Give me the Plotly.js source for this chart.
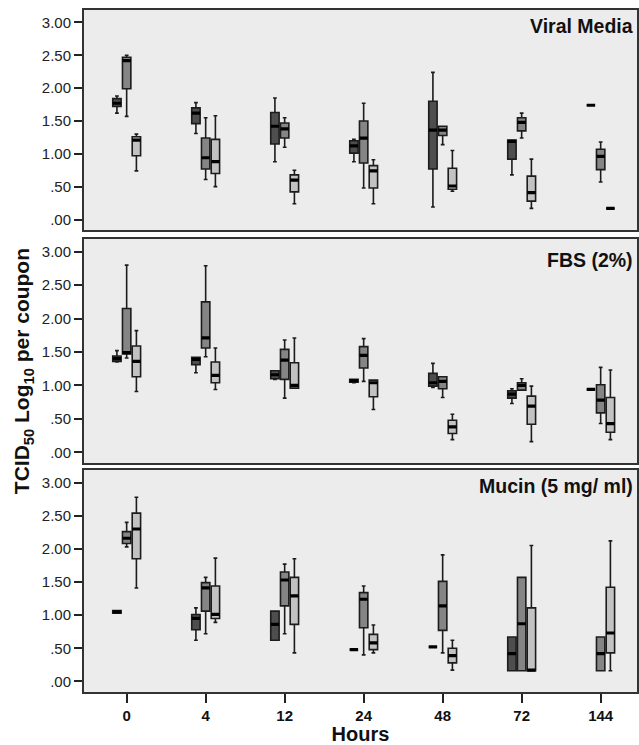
<!DOCTYPE html>
<html>
<head>
<meta charset="utf-8">
<script src="https://cdn.plot.ly/plotly-3.0.1.min.js"></script>
<style>html,body{margin:0;padding:0;background:#fff;}#chart{width:639px;height:745px;}</style>
</head>
<body>
<div id="chart"></div>
<script>
// Hours (categories)
const hours = ['0', '4', '12', '24', '48', '72', '144'];
const panelNames = ['Viral Media', 'FBS (2%)', 'Mucin (5 mg/ ml)'];
const tickVals = [0, 0.5, 1, 1.5, 2, 2.5, 3];
const tickText = ['.00', '.50', '1.00', '1.50', '2.00', '2.50', '3.00'];

// Each entry: [lower whisker, Q1, median, Q3, upper whisker] per hour (null = no data)
const viralDark  = [[1.62,1.72,1.77,1.84,1.88],[1.31,1.46,1.62,1.70,1.78],[0.88,1.15,1.42,1.63,1.85],[0.88,1.01,1.12,1.20,1.22],[0.19,0.77,1.36,1.80,2.24],[0.68,0.92,1.19,1.21,1.21],[1.74,1.74,1.74,1.74,1.74]];
const viralMid   = [[1.57,1.99,2.42,2.47,2.50],[0.61,0.77,0.94,1.24,1.55],[1.10,1.24,1.38,1.47,1.55],[0.48,0.86,1.24,1.50,1.77],[1.14,1.28,1.36,1.42,1.42],[1.24,1.35,1.48,1.55,1.62],[0.57,0.76,0.96,1.07,1.18]];
const viralLight = [[0.74,0.97,1.21,1.26,1.30],[0.50,0.70,0.88,1.22,1.58],[0.24,0.42,0.60,0.68,0.75],[0.24,0.48,0.74,0.82,0.91],[0.43,0.46,0.51,0.78,1.05],[0.17,0.28,0.41,0.66,0.92],[0.17,0.17,0.17,0.17,0.17]];

const fbsDark  = [[1.35,1.36,1.40,1.44,1.52],[1.19,1.31,1.39,1.42,1.42],[1.09,1.10,1.16,1.22,1.22],[1.04,1.05,1.07,1.09,1.09],[0.97,0.99,1.04,1.18,1.33],[0.73,0.81,0.87,0.92,0.95],[0.94,0.94,0.94,0.94,0.94]];
const fbsMid   = [[1.41,1.47,1.49,2.15,2.80],[1.43,1.56,1.71,2.25,2.79],[0.81,1.09,1.38,1.54,1.68],[1.06,1.26,1.45,1.58,1.70],[0.82,0.95,1.06,1.13,1.13],[0.93,0.93,1.00,1.04,1.10],[0.43,0.59,0.78,1.01,1.27]];
const fbsLight = [[0.91,1.13,1.36,1.59,1.82],[0.94,1.04,1.15,1.35,1.56],[0.96,0.96,1.00,1.34,1.71],[0.64,0.83,1.04,1.08,1.08],[0.19,0.28,0.38,0.48,0.57],[0.16,0.42,0.69,0.84,0.99],[0.19,0.30,0.43,0.82,1.23]];

const mucinDark  = [[1.03,1.03,1.05,1.07,1.07],[0.62,0.78,0.95,1.01,1.11],[0.62,0.62,0.86,1.06,1.06],[0.48,0.48,0.48,0.48,0.48],[0.52,0.52,0.52,0.52,0.52],[0.16,0.16,0.42,0.67,0.67],null];
const mucinMid   = [[2.03,2.08,2.16,2.26,2.40],[0.72,1.06,1.41,1.49,1.57],[0.72,1.14,1.53,1.65,1.77],[0.40,0.81,1.24,1.34,1.44],[0.43,0.77,1.14,1.51,1.91],[0.16,0.16,0.87,1.57,1.57],[0.16,0.16,0.42,0.67,0.67]];
const mucinLight = [[1.41,1.85,2.30,2.54,2.78],[0.89,0.95,1.01,1.44,1.86],[0.43,0.86,1.29,1.57,1.85],[0.43,0.48,0.58,0.71,0.85],[0.17,0.28,0.39,0.50,0.62],[0.16,0.16,0.17,1.11,2.05],[0.16,0.43,0.73,1.42,2.12]];

const panels = [
  [viralDark, viralMid, viralLight],
  [fbsDark, fbsMid, fbsLight],
  [mucinDark, mucinMid, mucinLight]
];
const seriesKeys = ['dark', 'mid', 'light'];
const fills = ['#4e4e4e', '#858585', '#c2c2c2'];
const edge = '#1c1c1c';

const traces = [];
panels.forEach((series, p) => {
  const xa = p === 0 ? 'x' : 'x' + (p + 1);
  const ya = p === 0 ? 'y' : 'y' + (p + 1);
  series.forEach((stats, s) => {
    const xs = [], lo = [], q1 = [], med = [], q3 = [], hi = [];
    stats.forEach((st, i) => {
      if (!st) return;
      xs.push(hours[i]); lo.push(st[0]); q1.push(st[1]); med.push(st[2]); q3.push(st[3]); hi.push(st[4]);
    });
    const common = {
      type: 'box', x: xs, xaxis: xa, yaxis: ya,
      alignmentgroup: 'p' + p, offsetgroup: seriesKeys[s],
      boxpoints: false, showlegend: false, hoverinfo: 'skip'
    };
    traces.push(Object.assign({}, common, {
      q1: q1, median: med, q3: q3, lowerfence: lo, upperfence: hi,
      fillcolor: fills[s], line: {color: edge, width: 1.6}, whiskerwidth: 0.45
    }));
    // thick median bar
    traces.push(Object.assign({}, common, {
      q1: med, median: med, q3: med, lowerfence: med, upperfence: med,
      fillcolor: 'rgba(0,0,0,0)', line: {color: '#000', width: 3.2}, whiskerwidth: 0
    }));
  });
});

const fontFam = '"Liberation Sans", Arial, Helvetica, sans-serif';
const doms = [[0.6774, 1], [0.3358, 0.6642], [0, 0.3255]];
const layout = {
  width: 639, height: 745,
  margin: {l: 84, r: 2, t: 10, b: 53},
  paper_bgcolor: '#ffffff', plot_bgcolor: '#ececec',
  boxmode: 'group', boxgap: 0.63, boxgroupgap: 0.14,
  font: {family: fontFam, color: '#1a1a1a'},
  annotations: [],
  showlegend: false
};
doms.forEach((d, p) => {
  const xk = p === 0 ? 'xaxis' : 'xaxis' + (p + 1);
  const yk = p === 0 ? 'yaxis' : 'yaxis' + (p + 1);
  const ya = p === 0 ? 'y' : 'y' + (p + 1);
  const xa = p === 0 ? 'x' : 'x' + (p + 1);
  layout[xk] = {
    type: 'category', categoryorder: 'array', categoryarray: hours,
    range: [-0.54, 6.46], anchor: ya, domain: [0, 1],
    showline: true, mirror: true, linecolor: '#333', linewidth: 2,
    showgrid: false, zeroline: false, fixedrange: true,
    ticks: p === 2 ? 'outside' : '', ticklen: 9, tickwidth: 2, tickcolor: '#222',
    showticklabels: p === 2,
    tickfont: {size: 15, family: fontFam, weight: 'bold', color: '#111'}
  };
  layout[yk] = {
    domain: d, anchor: xa, range: [-0.16, 3.19],
    tickvals: tickVals, ticktext: tickText,
    ticks: 'outside', ticklen: 8, tickwidth: 2, tickcolor: '#222',
    tickfont: {size: 15, family: fontFam, color: '#222'},
    showline: true, mirror: true, linecolor: '#333', linewidth: 2,
    showgrid: false, zeroline: false, fixedrange: true
  };
  layout.annotations.push({
    text: '<b>' + panelNames[p] + '</b>', xref: xa + ' domain', yref: ya + ' domain',
    x: 0.996, y: p === 1 ? 0.906 : 0.928, xanchor: 'right', yanchor: 'middle',
    showarrow: false, font: {size: 19.5, family: fontFam, color: '#111'}
  });
});
layout.xaxis3.title = {text: '<b>Hours</b>', font: {size: 20, family: fontFam, color: '#111'}, standoff: 5};
layout.annotations.push({
  text: '<b>TCID<sub>50</sub> Log<sub>10</sub> per coupon</b>', xref: 'paper', yref: 'paper',
  x: -0.110, y: 0.4707, xanchor: 'center', yanchor: 'middle', textangle: -90,
  showarrow: false, font: {size: 21, family: fontFam, color: '#111'}
});

Plotly.newPlot('chart', traces, layout, {displayModeBar: false, staticPlot: true});
</script>
</body>
</html>
